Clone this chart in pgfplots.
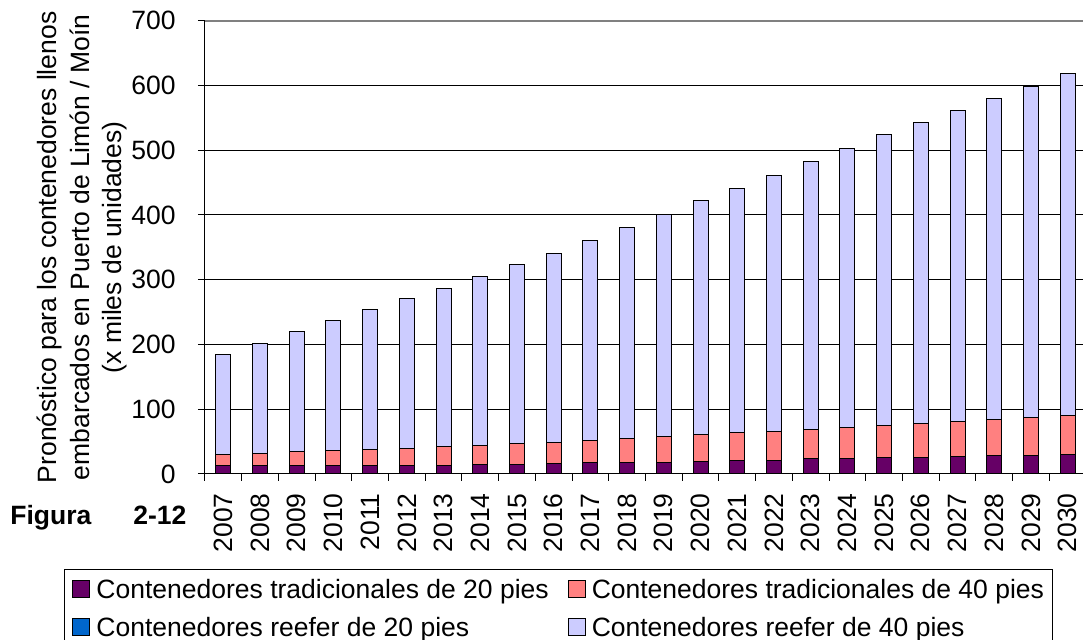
\documentclass[border=0pt]{standalone}
\usepackage{fontspec}
\setmainfont{Liberation Sans}
\usepackage{pgfplots}
\usepackage{pgfplotstable}
\pgfplotsset{compat=1.18}
\definecolor{cpurple}{HTML}{660066}
\definecolor{csalmon}{HTML}{FF8080}
\definecolor{cblue}{HTML}{0066CC}
\definecolor{clav}{HTML}{CCCCFF}
\definecolor{cframe}{HTML}{808080}

\pgfplotstableread{
x  t20   t40   r20  r40
0  12.8  17.6  0    154.6
1  13.4  19.0  0    169.6
2  13.4  21.6  0    185.0
3  13.4  23.1  0    200.5
4  12.9  25.1  0    216.0
5  12.4  27.2  0    231.4
6  13.4  28.3  0    245.3
7  13.9  29.8  0    261.3
8  14.9  31.9  0    276.2
9  15.9  33.0  0    292.1
10 17.0  35.0  0    308.0
11 18.0  36.5  0    325.5
12 18.3  39.3  0    343.4
13 20.0  40.7  0    362.3
14 20.6  42.7  0    377.7
15 21.6  44.3  0    395.1
16 23.2  45.8  0    413.0
17 24.2  47.9  0    430.9
18 25.2  50.0  0    449.8
19 26.2  51.6  0    465.2
20 27.3  53.5  0    480.2
21 28.3  55.1  0    496.6
22 29.3  57.2  0    511.5
23 30.4  59.2  0    529.4
}\datatable

\begin{document}
\fontsize{13.25}{16.25}\selectfont
\begin{tikzpicture}
\begin{axis}[
  at={(102.5pt,83pt)}, anchor=south west,
  scale only axis, width=440.5pt, height=226.65pt,
  ybar stacked, bar width=7.5pt,
  xmin=-0.5, xmax=23.5, ymin=0, ymax=700,
  axis x line*=bottom, axis y line*=left,
  axis line style={black, line width=0.5pt},
  tick align=outside, major tick length=3.5pt,
  tick style={black, line width=0.5pt},
  ytick={0,100,...,700},
  ymajorgrids, grid style={black, line width=0.5pt},
  xtick={-0.5,0.5,...,23.5}, xticklabel={\mbox{}},
  extra x ticks={0,1,...,23},
  extra x tick labels={2007,2008,2009,2010,2011,2012,2013,2014,2015,2016,2017,2018,2019,2020,2021,2022,2023,2024,2025,2026,2027,2028,2029,2030},
  extra x tick style={major tick length=0pt},
  xticklabel style={inner sep=0pt, yshift=-9.5pt, rotate=90, anchor=east},
  yticklabel style={inner sep=0pt, anchor=east, xshift=-11pt},
  /pgf/number format/assume math mode=true,
  ylabel={Pronóstico para los contenedores llenos\\embarcados en Puerto de Limón / Moín\\(x miles de unidades)},
  every axis y label/.style={at={(rel axis cs:-0.13961,0.5)}, rotate=90, anchor=center, align=center},
  legend columns=2,
  legend cell align=left,
  legend style={
    at={(-0.16005,-0.20957)}, anchor=north west,
    draw=black, line width=0.5pt,
    inner xsep=4pt, inner ysep=4.8pt,
    nodes={inner sep=0pt},
    row sep=7.3pt,
    /tikz/every odd column/.append style={column sep=3pt},
    /tikz/every even column/.append style={column sep=9.5pt},
  },
  legend image code/.code={\draw[#1,draw=black,line width=0.5pt] (0pt,-3.5pt) rectangle (8.5pt,5pt);},
  every axis plot/.append style={draw=black, line width=0.5pt},
  after end axis/.code={\draw[cframe, line width=1pt] (rel axis cs:0,1) -- (rel axis cs:1,1);},
]
\addplot[fill=cpurple] table[x=x,y=t20]{\datatable};
\addplot[fill=csalmon] table[x=x,y=t40]{\datatable};
\addplot[fill=cblue] table[x=x,y=r20]{\datatable};
\addplot[fill=clav] table[x=x,y=r40]{\datatable};
\legend{Contenedores tradicionales de 20 pies, Contenedores tradicionales de 40 pies, Contenedores reefer de 20 pies, Contenedores reefer de 40 pies}
\end{axis}
\node[font=\bfseries, inner sep=0pt, anchor=base west] at (5pt,57.5pt) {Figura};
\node[font=\bfseries, inner sep=0pt, anchor=base west] at (66.5pt,57.5pt) {2-12};
\pgfresetboundingbox
\path[use as bounding box] (0,0) rectangle (541.5pt,320pt);
\end{tikzpicture}
\end{document}
